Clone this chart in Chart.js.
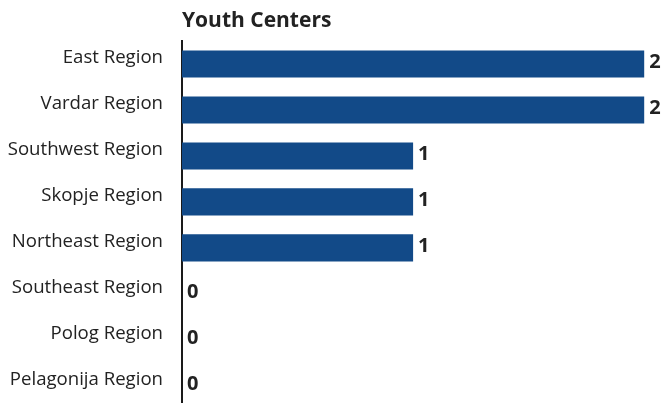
<!DOCTYPE html>
<html>
<head>
<meta charset="utf-8">
<script src="https://cdn.jsdelivr.net/npm/chart.js@4/dist/chart.umd.min.js"></script>
<style>
  html, body { margin: 0; padding: 0; background: #fff; overflow: hidden; }
  canvas { display: block; }
</style>
</head>
<body>
<canvas id="chart" width="665" height="439"></canvas>
<script>
const regions = ["East Region", "Vardar Region", "Southwest Region", "Skopje Region",
                 "Northeast Region", "Southeast Region", "Polog Region", "Pelagonija Region"];
const youthCenters = [2, 2, 1, 1, 1, 0, 0, 0];
const chartTitle = "Youth Centers";

const BAR_COLOR = "#124a88";
const TEXT_COLOR = "#222222";

// Title drawn flush with the left edge of the plot area
const titlePlugin = {
  id: "leftTitle",
  afterDraw(chart) {
    const { ctx, chartArea } = chart;
    ctx.save();
    ctx.font = "bold 21px 'Open Sans', sans-serif";
    ctx.fillStyle = TEXT_COLOR;
    ctx.textAlign = "left";
    ctx.textBaseline = "middle";
    ctx.fillText(chartTitle, chartArea.left, 21);
    ctx.restore();
  }
};

// Value labels at the end of each bar
const valueLabels = {
  id: "valueLabels",
  afterDatasetsDraw(chart) {
    const { ctx } = chart;
    const meta = chart.getDatasetMeta(0);
    ctx.save();
    ctx.font = "bold 20px 'Open Sans', sans-serif";
    ctx.fillStyle = TEXT_COLOR;
    ctx.textAlign = "left";
    ctx.textBaseline = "middle";
    meta.data.forEach((bar, i) => {
      ctx.fillText(String(youthCenters[i]), bar.x + 5, bar.y - 2);
    });
    ctx.restore();
  }
};

new Chart(document.getElementById("chart"), {
  type: "bar",
  data: {
    labels: regions,
    datasets: [{
      data: youthCenters,
      backgroundColor: BAR_COLOR,
      borderWidth: 0,
      categoryPercentage: 1.0,
      barPercentage: 0.59
    }]
  },
  options: {
    indexAxis: "y",
    responsive: false,
    animation: false,
    layout: { padding: { top: 41, right: 0, bottom: 0, left: 0 } },
    plugins: {
      legend: { display: false },
      tooltip: { enabled: false }
    },
    scales: {
      x: {
        display: false,
        min: 0,
        max: 2.09
      },
      y: {
        afterFit(scale) { scale.width = 182; },
        grid: { display: false, drawTicks: false },
        border: { display: true, color: "#1a1a1a", width: 2 },
        ticks: {
          color: TEXT_COLOR,
          font: { family: "'Open Sans', sans-serif", size: 18.6 },
          padding: 19,
          labelOffset: -6
        }
      }
    }
  },
  plugins: [titlePlugin, valueLabels]
});
</script>
</body>
</html>
